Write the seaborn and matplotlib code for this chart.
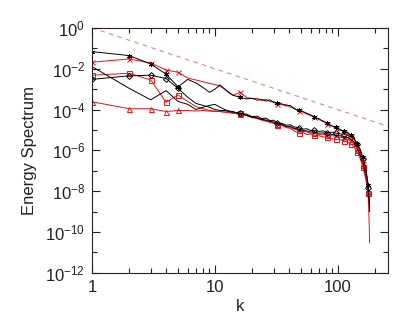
import numpy as np
import pandas as pd
import matplotlib
matplotlib.use("Agg")
import matplotlib.pyplot as plt
import matplotlib.ticker as mticker
import seaborn as sns

# wavenumbers
k = [1, 2, 3, 4, 5, 6, 7, 8, 9, 10, 11, 12, 13, 14,
     16, 18, 20, 22, 24, 26, 28, 30, 32,
     35, 38, 41, 44, 48, 52, 56, 60, 64,
     70, 76, 82, 88, 96, 104, 112, 120, 128,
     136, 144, 152, 160, 166, 170, 174, 176, 178, 180, 181]

# spectra
e_star = [6.9e-2, 4.4e-2, 1.7e-2, 5.4e-3, 1.3e-3, 3.0e-3, 2.0e-3, 1.2e-3, 7.0e-4, 1.0e-3, 1.6e-3, 1.0e-3, 7.0e-4, 5.0e-4,
          4.0e-4, 3.3e-4, 3.6e-4, 2.9e-4, 3.1e-4, 2.6e-4, 3.0e-4, 2.2e-4, 2.0e-4,
          1.9e-4, 1.5e-4, 1.6e-4, 1.1e-4, 9.0e-5, 8.0e-5, 6.5e-5, 5.5e-5, 4.2e-5,
          3.6e-5, 2.6e-5, 2.2e-5, 1.6e-5, 1.4e-5, 1.0e-5, 8.5e-6, 7.5e-6, 5.5e-6,
          3.8e-6, 2.0e-6, 1.1e-6, 4.5e-7, 2.0e-7, 9.0e-8, 4.0e-8, 2.0e-8, 8.0e-9, 3.0e-9, 1.5e-9]
e_cross = [2.1e-2, 3.0e-2, 1.9e-2, 8.7e-3, 6.7e-3, 3.5e-3, 2.8e-3, 2.3e-3, 1.9e-3, 1.7e-3, 1.4e-3, 1.0e-3, 6.5e-4, 5.0e-4,
           7.0e-4, 4.0e-4, 3.4e-4, 3.6e-4, 2.8e-4, 3.2e-4, 2.4e-4, 2.5e-4, 1.9e-4,
           1.7e-4, 1.8e-4, 1.3e-4, 1.2e-4, 8.5e-5, 7.5e-5, 6.0e-5, 5.0e-5, 4.5e-5,
           3.2e-5, 2.8e-5, 2.0e-5, 1.7e-5, 1.2e-5, 1.1e-5, 8.0e-6, 6.5e-6, 5.0e-6,
           3.3e-6, 1.7e-6, 8.0e-7, 3.5e-7, 1.5e-7, 6.0e-8, 2.0e-8, 8.0e-9, 1.5e-9, 2.0e-10, 3.0e-11]
e_square = [4.8e-3, 6.0e-3, 2.8e-3, 2.3e-4, 5.2e-4, 2.5e-4, 1.4e-4, 1.1e-4, 9.0e-5, 8.5e-5, 8.0e-5, 7.5e-5, 7.5e-5, 7.0e-5,
            7.0e-5, 5.0e-5, 4.5e-5, 3.6e-5, 3.2e-5, 2.6e-5, 2.7e-5, 2.1e-5, 1.8e-5,
            1.7e-5, 1.3e-5, 1.2e-5, 9.0e-6, 7.0e-6, 7.5e-6, 6.0e-6, 6.3e-6, 5.5e-6,
            5.2e-6, 4.6e-6, 4.5e-6, 3.8e-6, 3.5e-6, 3.3e-6, 3.0e-6, 2.5e-6, 2.0e-6,
            1.4e-6, 8.0e-7, 4.0e-7, 1.5e-7, 6.0e-8, 3.0e-8, 1.5e-8, 8.0e-9, 5.0e-9, 3.0e-9, 1.5e-9]
e_diamond = [3.0e-3, 4.5e-3, 4.8e-3, 3.3e-3, 1.1e-3, 4.0e-4, 2.0e-4, 1.6e-4, 1.3e-4, 1.0e-4, 9.0e-5, 9.0e-5, 8.0e-5, 7.5e-5,
             6.5e-5, 6.0e-5, 4.5e-5, 4.8e-5, 3.6e-5, 3.8e-5, 2.9e-5, 3.0e-5, 2.3e-5,
             2.1e-5, 1.7e-5, 1.8e-5, 1.4e-5, 1.3e-5, 1.1e-5, 1.15e-5, 9.5e-6, 9.5e-6,
             8.5e-6, 9.0e-6, 7.5e-6, 7.8e-6, 7.0e-6, 6.5e-6, 6.0e-6, 5.5e-6, 4.5e-6,
             3.5e-6, 2.0e-6, 1.0e-6, 4.0e-7, 1.8e-7, 8.0e-8, 3.5e-8, 1.5e-8, 7.0e-9, 3.0e-9, 2.0e-9]
e_plain = [1.26e-2, 1.1e-3, 3.0e-4, 8.5e-4, 2.5e-4, 1.8e-4, 1.0e-4, 1.3e-4, 1.6e-4, 1.8e-4, 1.3e-4, 1.0e-4, 8.5e-5, 8.0e-5,
           6.0e-5, 5.3e-5, 4.2e-5, 4.0e-5, 3.3e-5, 3.1e-5, 2.6e-5, 2.5e-5, 2.0e-5,
           1.9e-5, 1.5e-5, 1.5e-5, 1.2e-5, 1.1e-5, 9.5e-6, 9.0e-6, 8.0e-6, 8.0e-6,
           7.0e-6, 7.2e-6, 6.5e-6, 6.2e-6, 5.5e-6, 5.2e-6, 4.8e-6, 4.2e-6, 3.5e-6,
           2.5e-6, 1.4e-6, 6.0e-7, 2.5e-7, 1.0e-7, 5.0e-8, 2.0e-8, 1.0e-8, 5.0e-9, 2.0e-9, 1.0e-9]
e_triangle = [2.4e-4, 1.1e-4, 1.1e-4, 8.0e-5, 9.0e-5, 9.0e-5, 8.5e-5, 9.0e-5, 8.5e-5, 8.0e-5, 8.0e-5, 7.5e-5, 7.0e-5, 6.5e-5,
              6.0e-5, 5.2e-5, 4.0e-5, 3.8e-5, 3.0e-5, 2.9e-5, 2.3e-5, 2.2e-5, 1.9e-5,
              1.7e-5, 1.4e-5, 1.3e-5, 1.1e-5, 9.5e-6, 8.5e-6, 8.0e-6, 7.0e-6, 7.0e-6,
              6.0e-6, 6.2e-6, 5.5e-6, 5.3e-6, 5.0e-6, 4.5e-6, 4.0e-6, 3.5e-6, 2.8e-6,
              2.0e-6, 1.1e-6, 5.0e-7, 2.0e-7, 8.0e-8, 4.0e-8, 1.8e-8, 1.0e-8, 6.0e-9, 3.0e-9, 1.5e-9]

# reference k^-2 line end points
ref_k = [1, 256]
ref_e = [1.0, 1.5e-5]

# points that carry a symbol: k = 1..5 then roughly every 16
mark_idx = [0, 1, 2, 3, 4, 14, 22, 27, 31, 34, 36, 38, 40, 42, 44, 48]

sns.set_style("ticks")
plt.rcParams["font.family"] = ["Liberation Sans", "DejaVu Sans"]
plt.rcParams["mathtext.fontset"] = "custom"
plt.rcParams["mathtext.rm"] = "Liberation Sans"
plt.rcParams["mathtext.it"] = "Liberation Sans"

fig = plt.figure(figsize=(4.15, 3.32), dpi=100)
ax = fig.add_axes([0.222, 0.178, 0.713, 0.738])

red = "#e8101a"
series = [
    (e_triangle, red, "^"),
    (e_square, red, "s"),
    (e_plain, "black", None),
    (e_diamond, "black", "D"),
    (e_cross, red, "x"),
    (e_star, "black", (6, 2, 0)),
]
for vals, col, mk in series:
    df = pd.DataFrame({"k": k, "E": vals})
    kw = dict(color=col, linewidth=0.7)
    if mk is not None:
        kw.update(marker=mk, markevery=mark_idx, markersize=3.6 if mk != "D" else 3.0,
                  markerfacecolor="none", markeredgecolor=col, markeredgewidth=0.7)
    sns.lineplot(data=df, x="k", y="E", ax=ax, estimator=None, **kw)

sns.lineplot(x=ref_k, y=ref_e, ax=ax, color="#f08080", linewidth=0.8,
             linestyle=(0, (4, 4)), estimator=None)

ax.set_xscale("log")
ax.set_yscale("log")
ax.set_xlim(1, 256)
ax.set_ylim(1e-12, 1e0)

ax.yaxis.set_major_locator(mticker.FixedLocator([10.0**p for p in range(-12, 1, 2)]))
ax.yaxis.set_minor_locator(mticker.FixedLocator([10.0**p for p in range(-11, 0, 2)]))
ax.yaxis.set_major_formatter(mticker.LogFormatterMathtext())
ax.yaxis.set_minor_formatter(mticker.NullFormatter())
ax.xaxis.set_major_locator(mticker.FixedLocator([1, 10, 100]))
ax.xaxis.set_major_formatter(mticker.FixedFormatter(["1", "10", "100"]))
ax.xaxis.set_minor_locator(mticker.LogLocator(base=10, subs=np.arange(2, 10), numticks=20))
ax.xaxis.set_minor_formatter(mticker.NullFormatter())

ax.tick_params(which="both", direction="in", top=True, right=True, colors="#222222",
               labelsize=12, width=0.8)
ax.tick_params(which="major", length=6, pad=5)
ax.tick_params(which="minor", length=3.5)
for s in ax.spines.values():
    s.set_color("#222222")
    s.set_linewidth(0.8)

ax.set_xlabel("k", fontsize=12, color="#222222", labelpad=3)
ax.set_ylabel("Energy Spectrum", fontsize=12, color="#222222", labelpad=6)

fig.savefig("out.png", dpi=100)
